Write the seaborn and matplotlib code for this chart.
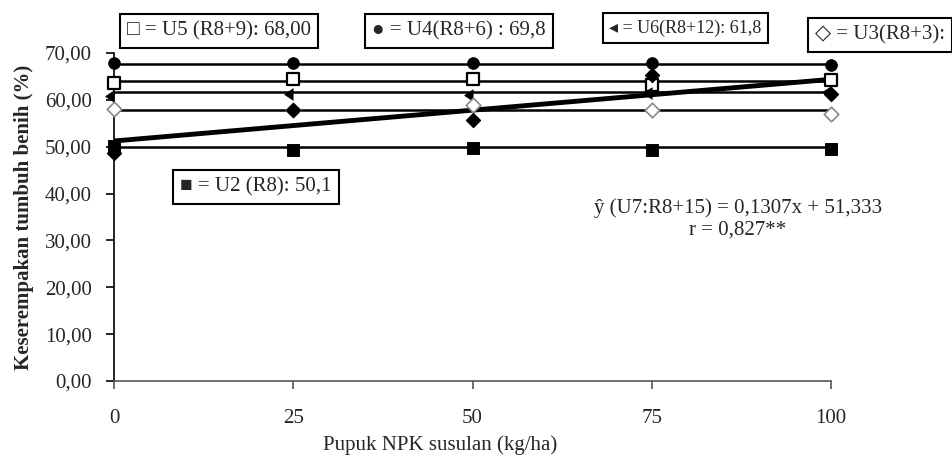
import numpy as np
import pandas as pd
import seaborn as sns
import matplotlib
matplotlib.use('Agg')
import matplotlib.pyplot as plt

# dosis pupuk NPK susulan (kg/ha)
dose = [0, 25, 50, 75, 100]

# keserempakan tumbuh benih (%) per umur panen
u4 = [67.9, 67.9, 67.9, 67.9, 67.4]
u5 = [63.7, 64.5, 64.4, 63.2, 64.3]
u6 = [60.8, 61.3, 61.1, 61.4, 61.6]
u3 = [58.0, 57.9, 59.0, 57.9, 57.0]
u7 = [48.6, 57.9, 55.8, 65.4, 61.3]
u2 = [50.1, 49.4, 49.7, 49.4, 49.5]

# rata-rata (garis datar)
levels = {'U4': 67.7, 'U5': 64.1, 'U6': 61.6, 'U3': 57.9, 'U2': 49.9}

yticks = [0, 10, 20, 30, 40, 50, 60, 70]
yticklabels = ['0,00', '10,00', '20,00', '30,00', '40,00', '50,00', '60,00', '70,00']

box_texts = ['\u25a1 = U5 (R8+9): 68,00', '\u25cf = U4(R8+6) : 69,8',
             '\u25c2 = U6(R8+12): 61,8', '\u25c7 = U3(R8+3):',
             '\u25a0 = U2 (R8): 50,1']
eq_text = '\u0177 (U7:R8+15) = 0,1307x + 51,333\nr = 0,827**'

sns.set_style('ticks')
plt.rcParams['font.family'] = ['Liberation Serif', 'DejaVu Sans']

W, H = 952, 462
fig = plt.figure(figsize=(W / 100, H / 100), dpi=100)
ax = fig.add_axes([114 / W, 1 - 381 / H, (831 - 114) / W, (381 - 53) / H])

df = pd.DataFrame({'dose': dose, 'U4': u4, 'U5': u5, 'U6': u6, 'U3': u3, 'U7': u7, 'U2': u2})

for key in levels:
    ax.hlines(levels[key], dose[0], dose[-1], color='black', lw=1.8, zorder=2)

styles = {
    'U4': dict(marker='o', color='black', edgecolor='black', s=70),
    'U5': dict(marker='s', color='white', edgecolor='black', s=70, linewidth=1.6),
    'U6': dict(marker=8, color='black', edgecolor='black', s=70),
    'U3': dict(marker='D', color='white', edgecolor='#888888', s=55, linewidth=1.2),
    'U2': dict(marker='s', color='black', edgecolor='black', s=70),
}
for key, st in styles.items():
    sns.scatterplot(data=df, x='dose', y=key, ax=ax, clip_on=False, zorder=4, **st)

sns.regplot(data=df, x='dose', y='U7', ax=ax, ci=None, marker='D', color='black',
            scatter_kws=dict(s=50, alpha=1, zorder=5, clip_on=False),
            line_kws=dict(lw=3.5, zorder=3))

ax.set_xlim(0, 100)
ax.set_ylim(0, 70)
ax.set_xticks(dose)
ax.set_xticklabels([str(d) for d in dose])
ax.set_yticks(yticks)
ax.set_yticklabels(yticklabels)
sns.despine(ax=ax)
ax.spines['left'].set_color('black')
ax.spines['left'].set_linewidth(1.2)
ax.spines['bottom'].set_color('#555555')
ax.spines['bottom'].set_linewidth(1.2)
ax.tick_params(axis='x', length=6, width=1.2, color='#555555', pad=14, labelsize=15)
ax.tick_params(axis='y', length=6, width=1.2, color='black', pad=10, labelsize=15)

ax.set_xlabel('Pupuk NPK susulan (kg/ha)', fontsize=15)
ax.set_ylabel('Keserempakan tumbuh benih (%)', fontsize=15, fontweight='bold')
ax.xaxis.set_label_coords(0.455, -0.165)
ax.yaxis.set_label_coords(-0.112, 0.5)

# kotak keterangan
boxes = [(127, 31, 15), (372, 31, 15), (609, 28, 13), (815, 35, 15), (180, 187, 15)]
for (px, py, fs), txt in zip(boxes, box_texts):
    fig.text(px / W, 1 - py / H, txt, fontsize=fs, ha='left', va='center',
             bbox=dict(boxstyle='square,pad=0.35', facecolor='white', edgecolor='black', lw=1.5))

fig.text(738 / W, 1 - 219 / H, eq_text, fontsize=15, ha='center', va='center', linespacing=1.15)

fig.savefig('out.png', dpi=100)
